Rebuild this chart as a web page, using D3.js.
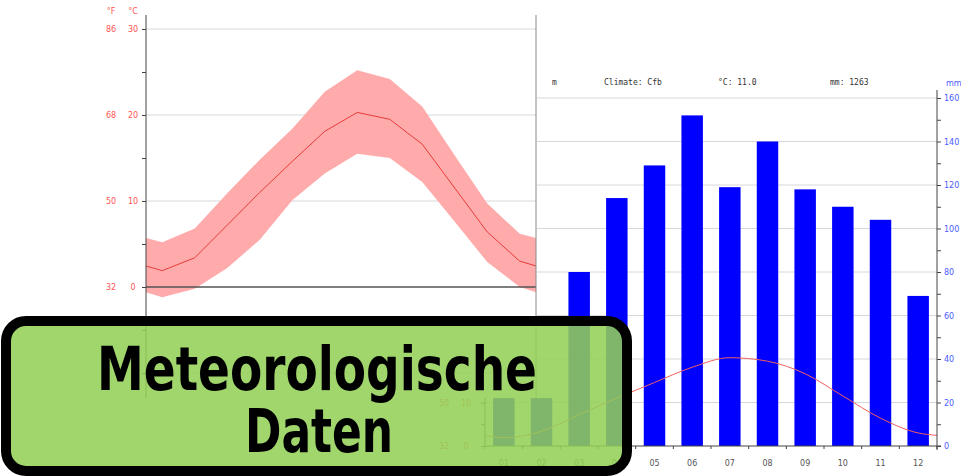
<!doctype html>
<html>
<head>
<meta charset="utf-8">
<title>Meteorologische Daten</title>
<script src="https://cdn.jsdelivr.net/npm/d3@7"></script>
<style>
body { margin: 0; background: #fff; }
svg { display: block; }
.small { font-family: "DejaVu Sans", sans-serif; font-size: 8px; }
.mono { font-family: "DejaVu Sans Mono", monospace; font-size: 8px; fill: #333; }
</style>
</head>
<body>
<div id="chart-area"></div>
<script>
// Data
var months = ["01", "02", "03", "04", "05", "06", "07", "08", "09", "10", "11", "12"];
var tempMean = [1.9, 3.4, 7.2, 11.0, 14.6, 18.1, 20.3, 19.5, 16.6, 11.5, 6.4, 3.0];
var tempMax = [5.2, 6.8, 10.9, 14.8, 18.4, 22.7, 25.2, 24.2, 21.0, 15.3, 9.7, 6.2];
var tempMin = [-1.2, -0.2, 2.2, 5.5, 10.1, 13.2, 15.5, 15.0, 12.2, 7.6, 2.9, 0.0];
var precip = [22, 22, 80, 114, 129, 152, 119, 140, 118, 110, 104, 69];
var cTicks = [30, 20, 10, 0];
var mmTicks = [0, 20, 40, 60, 80, 100, 120, 140, 160];
var header = { climate: "Cfb", temp: "11.0", mm: "1263" };
var titleLines = ["Meteorologische", "Daten"];

var W = 961, H = 476;
var svg = d3.select("#chart-area").append("svg").attr("width", W).attr("height", H);

// closes the year: value at the edges = mean of Dec and Jan
function edged(arr) {
    var e = (arr[0] + arr[11]) / 2;
    var pts = [[0, e]];
    arr.forEach(function(v, i){ pts.push([i + 0.5, v]); });
    pts.push([12, e]);
    return pts;
}
function toF(c) { return Math.round(c * 9 / 5 + 32); }

// ---------- right chart (precipitation) ----------
var r = svg.append("g");
var rx = d3.scaleLinear().domain([0, 12]).range([485, 937]);
var rmm = d3.scaleLinear().domain([0, 160]).range([446, 98]);
var rt = d3.scaleLinear().domain([0, 80]).range([446, 98]);

r.selectAll(".grid").data(mmTicks.slice(1)).enter().append("line")
    .attr("x1", rx(0)).attr("x2", rx(12))
    .attr("y1", function(d){ return rmm(d); }).attr("y2", function(d){ return rmm(d); })
    .attr("stroke", "#d8d8d8").attr("stroke-width", 1);

var bw = (rx(1) - rx(0)) * 0.57;
r.selectAll("rect.bar").data(precip).enter().append("rect")
    .attr("class", "bar")
    .attr("x", function(d, i){ return rx(i + 0.5) - bw / 2; })
    .attr("width", bw)
    .attr("y", function(d){ return rmm(d); })
    .attr("height", function(d){ return rmm(0) - rmm(d); })
    .attr("fill", "#0000ff");

r.append("path").datum(edged(tempMean))
    .attr("fill", "none").attr("stroke", "#f26060").attr("stroke-width", 1)
    .attr("d", d3.line().curve(d3.curveMonotoneX)
        .x(function(d){ return rx(d[0]); }).y(function(d){ return rt(d[1]); }));

// right mm axis
var mmAxis = d3.axisRight(rmm).tickValues(d3.range(0, 161, 10)).tickSize(4)
    .tickFormat(function(d){ return d % 20 == 0 ? d : ""; });
var ra = r.append("g").attr("transform", "translate(" + rx(12) + ",0)").call(mmAxis);
ra.select(".domain").attr("stroke", "#444").attr("d", "M0,90V450");
ra.selectAll(".tick line").attr("stroke", "#444");
ra.selectAll("text").attr("class", "small").attr("fill", "#4a5cff").attr("x", 7);
r.append("text").attr("class", "small").attr("x", 946).attr("y", 86).attr("fill", "#4a5cff").text("mm");

// left temp axis of the right chart
var tAxis = d3.axisLeft(rt).tickValues(d3.range(0, 81, 5)).tickSize(4).tickFormat("");
var la = r.append("g").attr("transform", "translate(" + rx(0) + ",0)").call(tAxis);
la.select(".domain").attr("stroke", "#444").attr("d", "M0,98V446");
la.selectAll(".tick line").attr("stroke", "#444");
[0, 10].forEach(function(c){
    r.append("text").attr("class", "small").attr("fill", "#ff5555").attr("text-anchor", "middle")
        .attr("x", 444).attr("y", rt(c) + 3).text(toF(c));
    r.append("text").attr("class", "small").attr("fill", "#ff5555").attr("text-anchor", "middle")
        .attr("x", 466).attr("y", rt(c) + 3).text(c);
});

// month axis
var ma = r.append("g").attr("transform", "translate(0," + rmm(0) + ")");
ma.append("line").attr("x1", rx(0)).attr("x2", rx(12) + 4).attr("stroke", "#444");
ma.selectAll(".mt").data(d3.range(0, 13)).enter().append("line")
    .attr("x1", function(d){ return rx(d); }).attr("x2", function(d){ return rx(d); })
    .attr("y1", 0).attr("y2", 3).attr("stroke", "#444");
ma.selectAll(".ml").data(months).enter().append("text")
    .attr("class", "small").attr("fill", "#555").attr("text-anchor", "middle")
    .attr("x", function(d, i){ return rx(i + 0.5); }).attr("y", 20).text(function(d){ return d; });

// header
r.append("text").attr("class", "mono").attr("x", 552).attr("y", 85).text("m");
r.append("text").attr("class", "mono").attr("x", 604).attr("y", 85).text("Climate: " + header.climate);
r.append("text").attr("class", "mono").attr("x", 718).attr("y", 85).text("\u00b0C: " + header.temp);
r.append("text").attr("class", "mono").attr("x", 830).attr("y", 85).text("mm: " + header.mm);

// ---------- left chart (temperature) ----------
var l = svg.append("g");
l.append("rect").attr("x", 0).attr("y", 0).attr("width", 537).attr("height", 398).attr("fill", "#fff");
var lx = d3.scaleLinear().domain([0, 12]).range([146, 536]);
var ly = d3.scaleLinear().domain([0, 30]).range([287, 29]);

l.selectAll(".lgrid").data([30, 20, 10, -10]).enter().append("line")
    .attr("x1", lx(0)).attr("x2", lx(12))
    .attr("y1", function(d){ return ly(d); }).attr("y2", function(d){ return ly(d); })
    .attr("stroke", "#d8d8d8");

l.append("path").datum(d3.zip(edged(tempMax), edged(tempMin)))
    .attr("fill", "#ffabab")
    .attr("d", d3.area()
        .x(function(d){ return lx(d[0][0]); })
        .y0(function(d){ return ly(d[1][1]); })
        .y1(function(d){ return ly(d[0][1]); }));

l.append("path").datum(edged(tempMean))
    .attr("fill", "none").attr("stroke", "#e83a3a").attr("stroke-width", 1)
    .attr("d", d3.line().x(function(d){ return lx(d[0]); }).y(function(d){ return ly(d[1]); }));

l.append("line").attr("x1", lx(0)).attr("x2", lx(12)).attr("y1", ly(0)).attr("y2", ly(0))
    .attr("stroke", "#555").attr("stroke-width", 1.5);
l.append("line").attr("x1", lx(12)).attr("x2", lx(12)).attr("y1", 15).attr("y2", 398)
    .attr("stroke", "#888");

var cAxis = d3.axisLeft(ly).tickValues(d3.range(-10, 31, 5)).tickSize(4).tickFormat("");
var ca = l.append("g").attr("transform", "translate(" + lx(0) + ",0)").call(cAxis);
ca.select(".domain").attr("stroke", "#444").attr("d", "M0,15V398");
ca.selectAll(".tick line").attr("stroke", "#444");

cTicks.forEach(function(c){
    l.append("text").attr("class", "small").attr("fill", "#ff5555").attr("text-anchor", "middle")
        .attr("x", 111).attr("y", ly(c) + 3).text(toF(c));
    l.append("text").attr("class", "small").attr("fill", "#ff5555").attr("text-anchor", "middle")
        .attr("x", 133).attr("y", ly(c) + 3).text(c);
});
l.append("text").attr("class", "small").attr("fill", "#ff5555").attr("text-anchor", "middle")
    .attr("x", 111).attr("y", 14).text("\u00b0F");
l.append("text").attr("class", "small").attr("fill", "#ff5555").attr("text-anchor", "middle")
    .attr("x", 133).attr("y", 14).text("\u00b0C");

// ---------- title box ----------
var box = svg.append("g");
box.append("rect").attr("x", 6).attr("y", 321).attr("width", 621).attr("height", 150)
    .attr("rx", 20).attr("ry", 20)
    .attr("fill", "rgb(147,208,86)").attr("fill-opacity", 0.87)
    .attr("stroke", "#000").attr("stroke-width", 10);
box.append("text").attr("x", 317).attr("y", 390)
    .attr("text-anchor", "middle")
    .attr("textLength", 440).attr("lengthAdjust", "spacingAndGlyphs")
    .style("font-family", "'DejaVu Sans Condensed', 'DejaVu Sans', sans-serif")
    .style("font-weight", "bold").style("font-size", "61px")
    .text(titleLines[0]);
box.append("text").attr("x", 319).attr("y", 452)
    .attr("text-anchor", "middle")
    .attr("textLength", 148).attr("lengthAdjust", "spacingAndGlyphs")
    .style("font-family", "'DejaVu Sans Condensed', 'DejaVu Sans', sans-serif")
    .style("font-weight", "bold").style("font-size", "61px")
    .text(titleLines[1]);
</script>
</body>
</html>
